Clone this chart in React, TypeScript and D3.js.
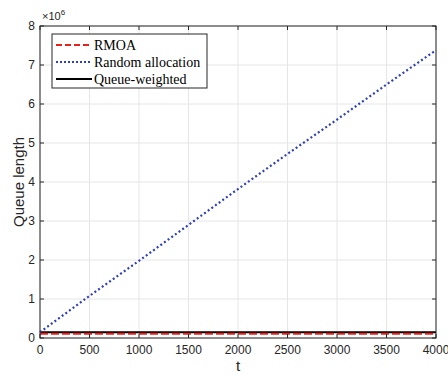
import React from 'react';
import * as d3 from 'd3';

const tValues = [0, 500, 1000, 1500, 2000, 2500, 3000, 3500, 4000];
const randomAlloc = [0.15, 1.08, 1.98, 2.9, 3.82, 4.72, 5.6, 6.5, 7.38];
const rmoa = [0.11, 0.11, 0.11, 0.11, 0.11, 0.11, 0.11, 0.11, 0.11];
const queueWeighted = [0.15, 0.15, 0.15, 0.15, 0.15, 0.15, 0.15, 0.15, 0.15];
const xTicks = [0, 500, 1000, 1500, 2000, 2500, 3000, 3500, 4000];
const yTicks = [0, 1, 2, 3, 4, 5, 6, 7, 8];

const W = 448;
const H = 376;
const margin = { top: 26, right: 12, bottom: 38, left: 40 };

export default function App() {
  const iw = W - margin.left - margin.right;
  const ih = H - margin.top - margin.bottom;
  const x = d3.scaleLinear().domain([0, 4000]).range([0, iw]);
  const y = d3.scaleLinear().domain([0, 8]).range([ih, 0]);
  const line = (vals: number[]) =>
    d3.line<number>().x((_, i) => x(tValues[i])).y(d => y(d))(vals) || '';

  const axisColor = '#262626';
  const tickFont = 'Liberation Sans, Arial, sans-serif';

  const legend = [
    { label: 'RMOA', color: '#e8211c', dash: '6,3', width: 2 },
    { label: 'Random allocation', color: '#2d3fbf', dash: '2,2', width: 2.2 },
    { label: 'Queue-weighted', color: '#000', dash: null, width: 2 },
  ];

  return (
    <div style={{ position: 'fixed', left: 0, top: 0, width: W, height: H, overflow: 'hidden' }}>
      <svg width={W} height={H} style={{ display: 'block', background: '#fff' }}>
        <g transform={`translate(${margin.left},${margin.top})`}>
          {xTicks.map(t => (
            <line key={'gx' + t} x1={x(t)} x2={x(t)} y1={0} y2={ih} stroke="#e6e6e6" strokeWidth={1} />
          ))}
          {yTicks.map(t => (
            <line key={'gy' + t} x1={0} x2={iw} y1={y(t)} y2={y(t)} stroke="#e6e6e6" strokeWidth={1} />
          ))}

          <path d={line(queueWeighted)} fill="none" stroke="#000" strokeWidth={2} />
          <path d={line(rmoa)} fill="none" stroke="#e8211c" strokeWidth={2} strokeDasharray="8,3" />
          <path d={line(randomAlloc)} fill="none" stroke="#2d3fbf" strokeWidth={2.2} strokeDasharray="2,2.5" />

          <rect x={0} y={0} width={iw} height={ih} fill="none" stroke={axisColor} strokeWidth={1} />
          {xTicks.map(t => (
            <g key={'tx' + t}>
              <line x1={x(t)} x2={x(t)} y1={ih} y2={ih - 4} stroke={axisColor} />
              <line x1={x(t)} x2={x(t)} y1={0} y2={4} stroke={axisColor} />
              <text x={x(t)} y={ih + 16} textAnchor="middle" fontSize={12} fontFamily={tickFont} fill={axisColor}>{t}</text>
            </g>
          ))}
          {yTicks.map(t => (
            <g key={'ty' + t}>
              <line x1={0} x2={4} y1={y(t)} y2={y(t)} stroke={axisColor} />
              <line x1={iw} x2={iw - 4} y1={y(t)} y2={y(t)} stroke={axisColor} />
              <text x={-5} y={y(t) + 4} textAnchor="end" fontSize={12} fontFamily={tickFont} fill={axisColor}>{t}</text>
            </g>
          ))}
          <text x={2} y={-6} fontSize={11} fontFamily={tickFont} fill={axisColor}>
            ×10<tspan dy={-5} fontSize={8}>6</tspan>
          </text>

          <text x={iw / 2} y={ih + 33} textAnchor="middle" fontSize={15} fontFamily={tickFont} fill={axisColor}>t</text>
          <text transform={`translate(${-16},${ih / 2}) rotate(-90)`} textAnchor="middle" fontSize={15} fontFamily={tickFont} fill={axisColor}>Queue length</text>

          <g transform="translate(12,8)">
            <rect x={0} y={0} width={155} height={54} fill="#fff" stroke={axisColor} strokeWidth={1} />
            {legend.map((l, i) => (
              <g key={l.label} transform={`translate(0,${11 + i * 17})`}>
                <line x1={4} x2={40} y1={0} y2={0} stroke={l.color} strokeWidth={l.width} strokeDasharray={l.dash || undefined} />
                <text x={42} y={5} fontSize={14} fontFamily="Liberation Serif, Times New Roman, serif" fill="#000">{l.label}</text>
              </g>
            ))}
          </g>
        </g>
      </svg>
    </div>
  );
}
